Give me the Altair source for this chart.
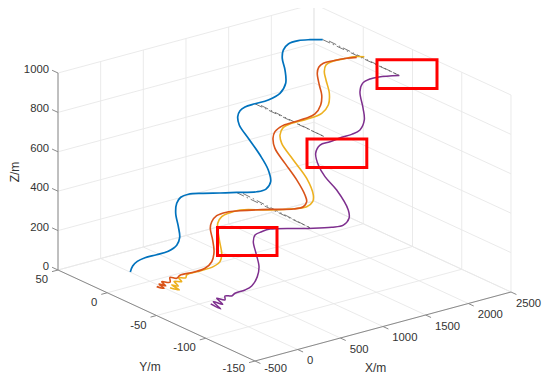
import altair as alt, pandas as pd

# Vehicle paths: X/m and Z/m at a fixed Y/m per vehicle
blue_y = 20
blue_x = [1,29,83,173,310,446,545,580,564,533,545,592,681,856,1052,1248,1482,1591,1646,1618,1521,1384,1278,1260,1287,1345,1462,1618,1755,1822,1814,1782,1794,1853,1970,2107,2256]
blue_z = [1,28,45,53,52,54,73,109,165,237,286,311,316,300,279,259,235,236,267,330,417,518,598,642,669,681,684,685,703,746,814,877,918,942,945,934,917]
red_y = -10
red_x = [-36,50,-9,70,23,120,120,198,237,393,530,609,636,620,592,609,667,784,940,1292,1565,1682,1722,1702,1605,1468,1350,1327,1350,1441,1526,1702,1819,1886,1898,1870,1846,1863,1917,2034,2191,2308]
red_z = [0,-19,10,-8,18,4,29,15,26,23,27,51,99,160,223,254,278,282,271,237,207,205,226,262,350,450,540,594,625,645,647,650,660,698,747,801,863,892,906,905,899,890]
yellow_y = -25
yellow_x = [-53,56,-33,44,-6,84,44,131,143,298,454,533,553,525,506,553,650,767,1119,1392,1549,1619,1626,1549,1392,1256,1236,1275,1373,1549,1725,1802,1814,1775,1755,1775,1861,2018,2095,2224]
yellow_z = [31,7,43,28,58,46,71,60,73,75,79,95,132,206,293,321,330,330,289,263,255,273,306,399,511,611,656,690,699,699,709,742,800,872,917,948,958,954,953,938]
purple_y = -60
purple_x = [20,137,50,160,90,187,187,266,305,422,500,566,586,551,519,539,617,715,1164,1438,1574,1641,1632,1496,1359,1281,1250,1301,1418,1555,1672,1769,1820,1805,1769,1799,1887,1992,2229]
purple_z = [21,-18,29,3,42,22,42,33,42,45,56,96,144,216,279,310,318,320,271,245,240,267,310,427,511,579,642,678,681,688,689,700,745,807,894,933,945,943,923]

# Dash-dot connectors between the vehicles at three waypoints
link_a_x = [2256,1462,1248]
link_a_z = [917,684,258]
link_b_x = [2330,1533,1322]
link_b_z = [901,667,245]
link_end_x = [2229,1359,1183]
link_end_z = [923,712,272]

x_ticks = [-500,0,500,1000,1500,2000,2500]
y_ticks = [50,0,-50,-100,-150]
z_ticks = [0,200,400,600,800,1000]

# Red highlight boxes on the page
box_left = [377,307,217.5]
box_right = [437,366.8,277]
box_top = [59.7,139,227.5]
box_bottom = [88.5,167.5,255.5]


def sx(x, y, z=0):
    return 255 + (x + 500) * 0.08533 - (y + 150) * 0.985


def sy(x, y, z=0):
    return 361 - (x + 500) * 0.023 - (y + 150) * 0.455 - z * 0.197


def seg(a, b):
    return {"x": sx(*a), "y": sy(*a), "x2": sx(*b), "y2": sy(*b)}


grid = []
for v in x_ticks:
    grid.append(seg((v, -150, 0), (v, 50, 0)))
    grid.append(seg((v, 50, 0), (v, 50, 1000)))
for v in y_ticks:
    grid.append(seg((-500, v, 0), (2500, v, 0)))
    grid.append(seg((2500, v, 0), (2500, v, 1000)))
for v in z_ticks:
    grid.append(seg((-500, 50, v), (2500, 50, v)))
    grid.append(seg((2500, 50, v), (2500, -150, v)))

axes = [seg((-500, 50, 0), (-500, 50, 1000)),
        seg((-500, 50, 0), (-500, -150, 0)),
        seg((-500, -150, 0), (2500, -150, 0))]
for v in x_ticks:
    axes.append(seg((v, -150, 0), (v, -155.5, 0)))
for v in y_ticks:
    axes.append(seg((-500, v, 0), (-570, v, 0)))
for v in z_ticks:
    axes.append(seg((-500, 50, v), (-500, 56, v)))

links = []
for xs in (link_a_x, link_b_x):
    zs = link_a_z if xs is link_a_x else link_b_z
    for x0, z0, x1, z1 in zip(xs, zs, link_end_x, link_end_z):
        links.append(seg((x0, blue_y, z0), (x1, purple_y, z1)))

SX = alt.Scale(domain=[8, 542])
SY = alt.Scale(domain=[375, 8])
X = alt.X("x:Q", scale=SX, axis=None)
Y = alt.Y("y:Q", scale=SY, axis=None)


def rules(rows, **kw):
    return alt.Chart(pd.DataFrame(rows)).mark_rule(**kw).encode(x=X, y=Y, x2="x2:Q", y2="y2:Q")


def path(xs, y, zs, color, width):
    df = pd.DataFrame({"i": range(len(xs)), "x": [sx(a, y) for a in xs],
                       "y": [sy(a, y, b) for a, b in zip(xs, zs)]})
    return alt.Chart(df).mark_line(color=color, strokeWidth=width, interpolate="catmull-rom",
                                   strokeJoin="round").encode(x=X, y=Y, order="i:Q")


def labels(rows, align, size=11.3, angle=0):
    return alt.Chart(pd.DataFrame(rows)).mark_text(
        align=align, baseline="middle", font="Liberation Sans", fontSize=size,
        color="#333333", angle=angle).encode(x=X, y=Y, text="t:N")


x_lab = [{"x": min(sx(v, -150) + 9.3, 516), "y": min(sy(v, -150) + 11.7, 369), "t": str(v)} for v in x_ticks]
y_lab = [{"x": sx(-500, v) - 10, "y": min(sy(-500, v) + 10, 369), "t": str(v)} for v in y_ticks]
z_lab = [{"x": 49, "y": sy(-500, 50, v) - 3, "t": str(v)} for v in z_ticks]

boxes = pd.DataFrame({"x": box_left, "x2": box_right, "y": box_top, "y2": box_bottom})

chart = alt.layer(
    rules(grid, color="#e8e8e8", strokeWidth=0.9),
    rules(axes, color="#8a8a8a", strokeWidth=1),
    rules(links, color="#555555", strokeWidth=0.8, strokeDash=[8, 3, 1.5, 3]),
    path(blue_x, blue_y, blue_z, "#0072BD", 1.7),
    path(yellow_x, yellow_y, yellow_z, "#EDB120", 1.6),
    path(red_x, red_y, red_z, "#D95319", 1.6),
    path(purple_x, purple_y, purple_z, "#7E2F8E", 1.5),
    alt.Chart(boxes).mark_rect(fillOpacity=0, stroke="#FF0000", strokeWidth=3).encode(
        x=X, y=Y, x2="x2:Q", y2="y2:Q"),
    labels(x_lab, "left"),
    labels(y_lab, "right"),
    labels(z_lab, "right"),
    labels([{"x": 375.7, "y": 367.5, "t": "X/m"}], "center", 12),
    labels([{"x": 150, "y": 367, "t": "Y/m"}], "center", 12),
    labels([{"x": 15, "y": 172, "t": "Z/m"}], "center", 12, 270),
).properties(width=534, height=367, padding=0, autosize=alt.AutoSizeParams(type="none")).configure_view(stroke=None)

chart.save("out.html", embed_options={"renderer": "svg", "actions": False})
